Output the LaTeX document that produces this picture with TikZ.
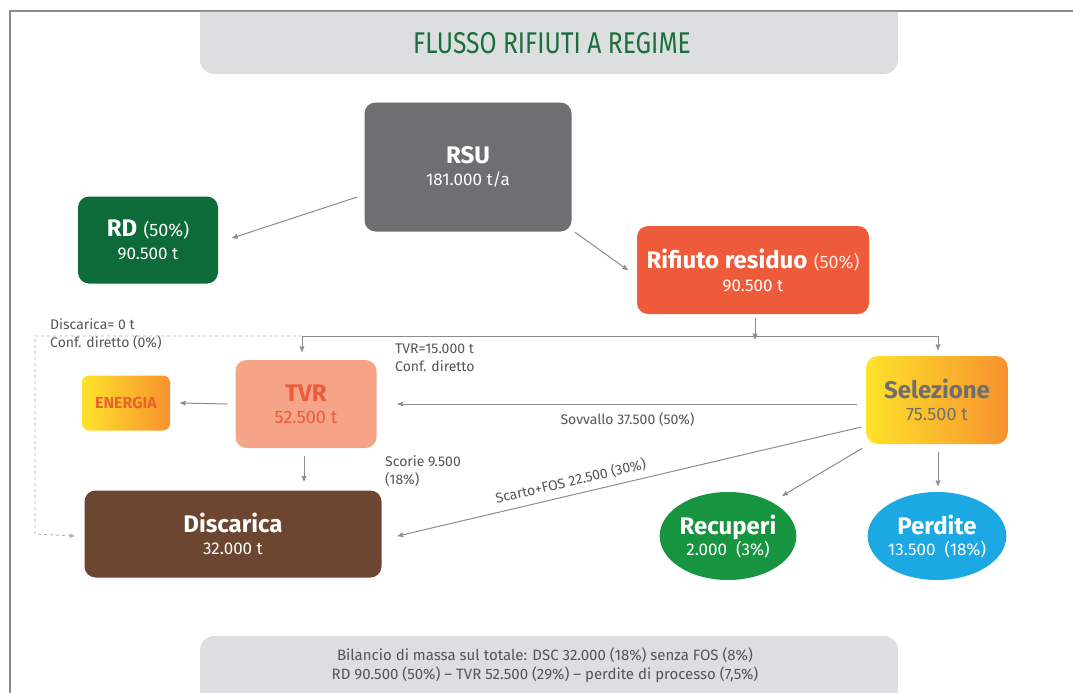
\documentclass[tikz,border=0pt]{standalone}
\usepackage{fontspec}
\setmainfont{Fira Sans}
\newfontfamily\titlefont{Fira Sans}[FakeStretch=0.82]
\usepackage{tikz}
\usetikzlibrary{positioning}
\usetikzlibrary{arrows,shapes.geometric,calc}

\definecolor{panelgray}{HTML}{DCDEDF}
\definecolor{titlegreen}{HTML}{1B6F3C}
\definecolor{rsugray}{HTML}{6E6F71}
\definecolor{rdgreen}{HTML}{0C6B38}
\definecolor{residuo}{HTML}{EE5B3B}
\definecolor{tvrfill}{HTML}{F5A487}
\definecolor{tvrtext}{HTML}{EC5B3B}
\definecolor{sunyellow}{HTML}{FFE22B}
\definecolor{sunorange}{HTML}{F7922E}
\definecolor{energiatext}{HTML}{E9642C}
\definecolor{discarica}{HTML}{6C4631}
\definecolor{recgreen}{HTML}{179440}
\definecolor{perdblue}{HTML}{1BA8E3}
\definecolor{linegray}{HTML}{8C8C8C}
\definecolor{notegray}{HTML}{555555}

\begin{document}
\begin{tikzpicture}[x=1pt,y=-1pt,>=stealth',
  box/.style={rounded corners=11pt,inner sep=0pt,align=center,text=white,
    font=\fontsize{24}{26}\selectfont},
  blob/.style={ellipse,inner sep=0pt,align=center,text=white,
    minimum width=136pt,minimum height=88pt,font=\fontsize{24}{26}\selectfont},
  flow/.style={->,draw=linegray,line width=1pt},
  links/.style={->,color=linegray,line width=1pt},
  note/.style={text=notegray,anchor=north west,align=left,inner sep=0pt,
    font=\fontsize{14}{18}\selectfont}]
  \useasboundingbox[fill=white] (0,0) rectangle (1073,693);

  % frame and panels
  \draw[linegray,line width=1.2pt] (10,693) -- (10,11) -- (1073,11);
  \fill[panelgray] (200,12) [rounded corners=14pt] -- (200,74) -- (898,74)
    [sharp corners] -- (898,12) -- cycle;
  \fill[panelgray] (200,693) [rounded corners=14pt] -- (200,636) -- (898,636)
    [sharp corners] -- (898,693) -- cycle;
  \node[text=titlegreen,font=\fontsize{30}{32}\titlefont] (title) at (552,43)
    {FLUSSO RIFIUTI A REGIME};
  \node[text=notegray,align=center,font=\fontsize{15}{19}\selectfont] (bilancio) at (545,665)
    {Bilancio di massa sul totale: DSC 32.000 (18\%) senza FOS (8\%)\\
     RD 90.500 (50\%) -- TVR 52.500 (29\%) -- perdite di processo (7,5\%)};

  % nodes
  \node[box,fill=rsugray,minimum width=207pt,minimum height=129pt] (RSU) at (468,167)
    {\textbf{RSU}\\[-4pt]{\fontsize{17}{19}\selectfont 181.000 t/a}};
  \node[box,fill=rdgreen,minimum width=140pt,minimum height=87pt] (RD) at (148,240)
    {\textbf{RD} {\fontsize{18}{19}\selectfont(50\%)}\\[-3pt]{\fontsize{17}{19}\selectfont 90.500 t}};
  \node[box,fill=residuo,minimum width=232pt,minimum height=88pt] (Residuo) at (753,270)
    {\textbf{Rifiuto residuo} {\fontsize{18}{19}\selectfont\color{white!85!residuo}(50\%)}\\[-3pt]
     {\fontsize{17}{19}\selectfont 90.500 t}};
  \node[box,fill=tvrfill,text=tvrtext,minimum width=141pt,minimum height=88pt] (TVR) at (306,404)
    {\textbf{TVR}\\[-4pt]{\fontsize{18}{19}\selectfont 52.500 t}};
  \node[box,rounded corners=7pt,left color=sunyellow,right color=sunorange,text=energiatext,
    minimum width=88pt,minimum height=55pt,font=\fontsize{16}{18}\selectfont\bfseries] (Energia) at (126,403)
    {ENERGIA};
  \node[box,left color=sunyellow,right color=sunorange,text=rsugray,
    minimum width=141pt,minimum height=88pt] (Selezione) at (937,400)
    {\textbf{Selezione}\\[-4pt]{\fontsize{18}{19}\selectfont 75.500 t}};
  \node[box,fill=discarica,minimum width=297pt,minimum height=87pt] (Discarica) at (233,534)
    {\textbf{Discarica}\\[-4pt]{\fontsize{17}{19}\selectfont 32.000 t}};
  \node[blob,fill=recgreen] (Recuperi) at (728,536)
    {\textbf{Recuperi}\\[-5pt]{\fontsize{17}{19}\selectfont 2.000\ \ (3\%)}};
  \node[blob,fill=perdblue] (Perdite) at (937,536)
    {\textbf{Perdite}\\[-5pt]{\fontsize{17}{19}\selectfont 13.500\ \ (18\%)}};

  % notes
  \node[note] (noteDisc) at (50,318) {Discarica= 0 t\\Conf. diretto (0\%)};
  \node[note] (noteTVR) at (395,344) {TVR=15.000 t\\Conf. diretto};
  \node[note] (noteScorie) at (385,455) {Scorie 9.500\\(18\%)};

  % split of the residual flow
  \coordinate (split) at (755,336);
  \coordinate (splitL) at (302,336);
  \coordinate (splitR) at (938,336);
  \coordinate (dashL) at (35,336);

  \path[links]
    ([xshift=-7pt,yshift=-30pt]RSU.west) edge ([xshift=14pt,yshift=2pt]RD.east)
    ([xshift=3pt,yshift=-65pt]RSU.east) edge ([xshift=-9pt]Residuo.west)
    ([xshift=2pt,yshift=-4pt]Residuo.south) edge ([yshift=-3pt]split)
    ([xshift=-8pt]TVR.west) edge ([xshift=10pt]Energia.east)
    ([xshift=-9pt,yshift=-4pt]Selezione.west) edge node[below=5pt,text=notegray,
      font=\fontsize{14}{16}\selectfont] {Sovvallo 37.500 (50\%)} ([xshift=21pt]TVR.east)
    ([xshift=-2pt,yshift=-8pt]TVR.south) edge ([xshift=-2pt,yshift=9pt]TVR.south |- Discarica.north)
    ([xshift=-5pt,yshift=-27pt]Selezione.west) edge node[pos=0.62,sloped,above=3pt,text=notegray,
      font=\fontsize{14}{16}\selectfont] {Scarto+FOS 22.500 (30\%)} ([xshift=16pt,yshift=-2pt]Discarica.east)
    ([xshift=-4pt,yshift=-4pt]Selezione.south west) edge ([xshift=6pt,yshift=9pt]Recuperi.north east)
    ([xshift=1pt,yshift=-8pt]Selezione.south) edge ([xshift=1pt,yshift=6pt]Perdite.north);
  \draw[flow] (splitR) -- ([yshift=6pt]Selezione.north -| splitR);
  \draw[flow] (splitR) -- (splitL) -- ([yshift=8pt]TVR.north -| splitL);
  \draw[flow,dashed,draw=linegray!70,line width=0.8pt] (splitL) -- (dashL)
    -- (dashL |- Discarica.west) -- ([xshift=-10pt,yshift=-2pt]Discarica.west);
\end{tikzpicture}
\end{document}
